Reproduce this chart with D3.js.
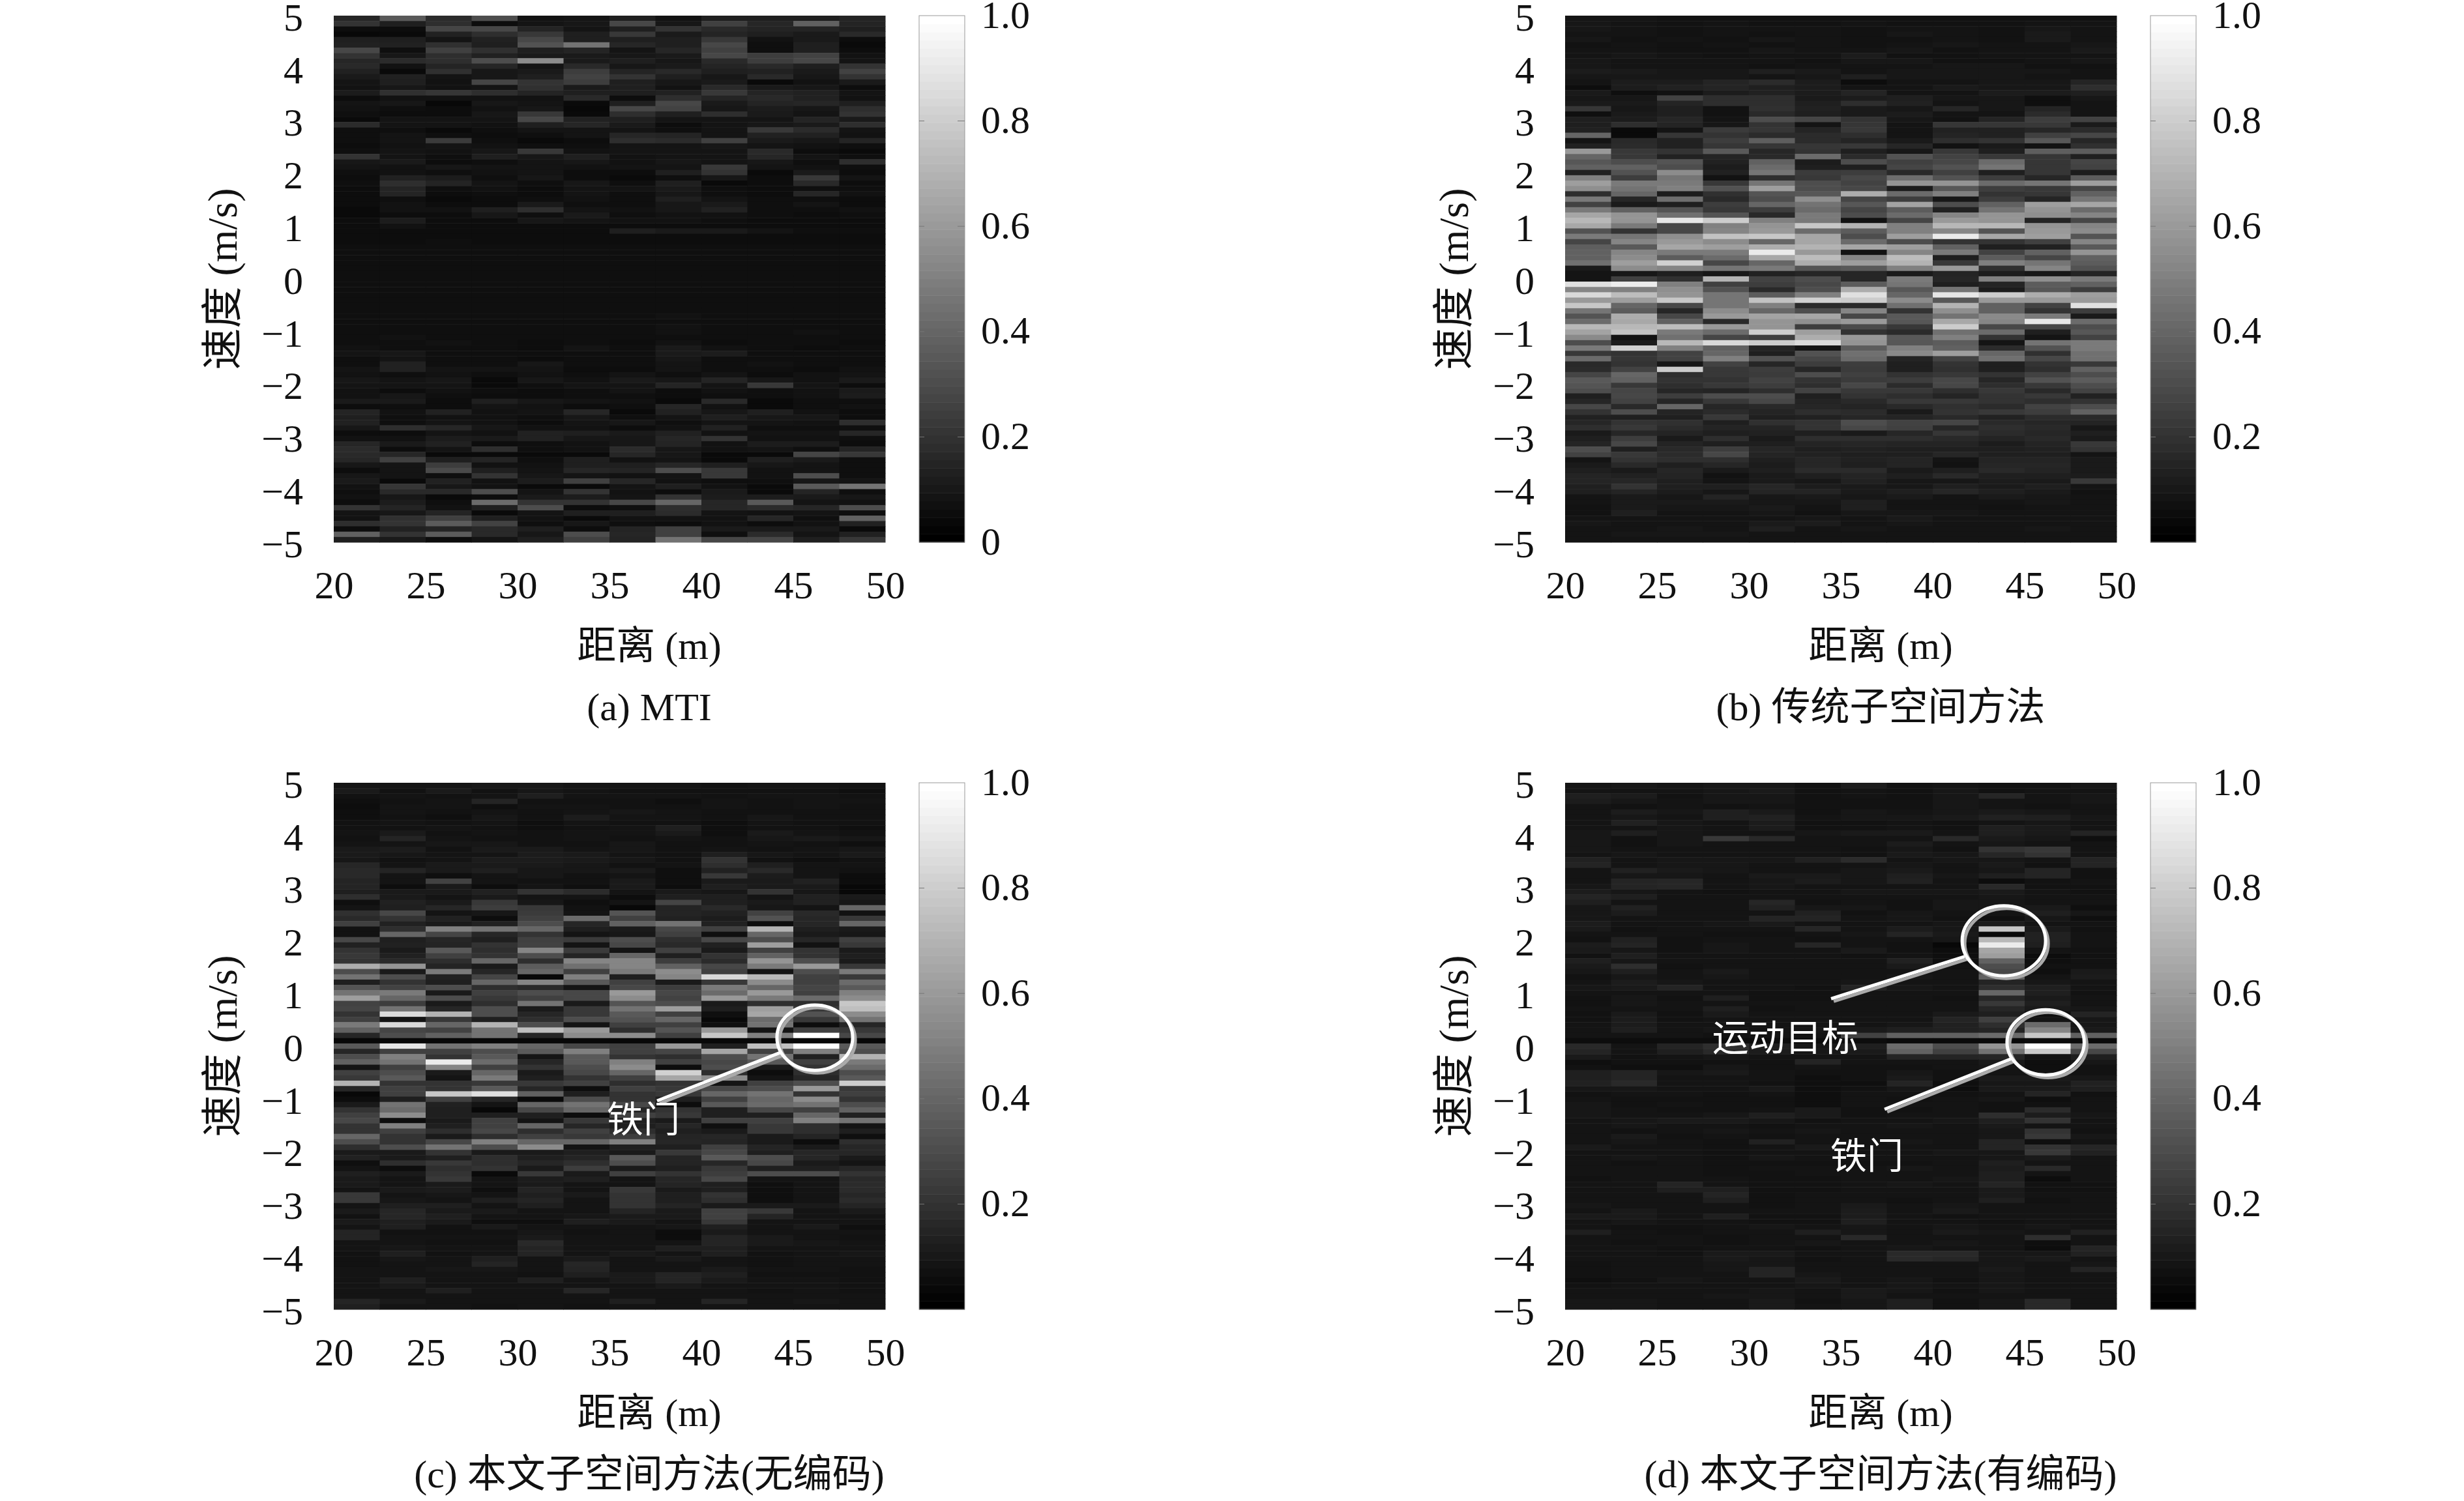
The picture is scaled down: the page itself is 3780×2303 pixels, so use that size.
<!DOCTYPE html>
<html>
<head>
<meta charset="utf-8">
<script src="https://cdnjs.cloudflare.com/ajax/libs/d3/7.8.5/d3.min.js"></script>
<style>
  body { margin: 0; background: white; }
  text { font-family: "Liberation Serif", "Noto Sans CJK SC", serif; fill: #111; }
</style>
</head>
<body>
<div id="chart"></div>
<script>
// range bins and speed ticks
var xTicks = [20, 25, 30, 35, 40, 45, 50];
var yTicks = [-5, -4, -3, -2, -1, 0, 1, 2, 3, 4, 5];
var barTicks = [0.2, 0.4, 0.6, 0.8];

// every row is one speed bin (top = +5 m/s), every column one range bin, values in percent of full scale
var panelA = [
[15,35,17,30,7,8,12,7,12,12,12,14],
[20,12,18,5,8,9,28,9,25,15,38,14],
[5,5,27,28,14,8,12,20,16,14,14,12],
[3,4,13,18,22,12,22,10,14,12,10,16],
[12,12,8,13,28,12,12,12,22,7,10,5],
[13,13,19,12,32,45,15,12,28,6,12,4],
[28,6,25,19,12,14,8,15,25,6,12,5],
[20,9,18,13,10,10,9,10,28,24,26,7],
[15,17,18,30,55,10,12,9,16,24,28,8],
[16,7,14,15,8,16,9,10,14,16,12,20],
[13,4,19,9,10,24,14,16,12,13,10,26],
[10,13,8,9,12,26,20,12,9,16,9,20],
[8,12,7,27,20,24,12,9,10,4,7,10],
[7,9,7,8,19,10,12,7,16,10,9,5],
[11,19,21,18,14,12,12,13,22,14,13,8],
[5,7,7,7,7,16,5,18,14,16,13,7],
[8,9,3,9,8,4,12,28,10,14,15,12],
[7,6,5,7,9,3,28,26,9,11,9,18],
[6,5,5,9,22,4,18,12,18,10,8,20],
[4,8,8,8,28,13,12,8,8,8,14,10],
[17,8,8,7,12,15,10,5,8,9,10,18],
[6,6,4,6,8,8,8,6,8,22,17,8],
[6,8,6,5,6,8,15,14,8,13,13,7],
[6,8,23,6,4,5,18,17,25,10,9,14],
[5,7,8,7,6,6,8,8,9,8,7,6],
[6,8,7,9,22,7,8,8,8,16,5,4],
[20,8,6,12,9,12,7,8,8,15,8,6],
[9,10,5,6,8,9,7,9,8,9,6,18],
[8,7,9,8,8,7,8,8,22,8,7,6],
[6,7,6,7,8,5,5,12,20,4,10,5],
[5,13,11,6,9,5,4,6,9,5,22,8],
[6,18,14,8,6,9,6,12,4,5,16,5],
[5,14,6,7,5,8,8,10,6,5,6,6],
[5,14,5,6,5,8,6,9,6,5,15,7],
[5,6,4,5,6,7,6,12,8,6,6,5],
[5,7,5,5,10,6,6,9,10,6,8,5],
[4,7,7,12,18,8,7,9,13,6,6,7],
[4,5,5,9,6,10,6,7,7,6,5,6],
[5,11,5,5,9,8,7,7,6,5,5,5],
[5,7,5,5,5,5,5,5,5,5,5,5],
[5,5,5,5,5,5,12,10,10,8,6,6],
[5,5,5,5,5,5,5,5,5,5,5,5],
[5,5,6,5,5,5,5,5,5,5,5,5],
[6,6,6,6,6,6,6,6,6,6,6,6],
[6,6,6,6,6,6,6,6,6,6,6,6],
[6,6,6,6,6,6,6,6,6,6,6,6],
[6,6,6,6,6,6,6,6,6,6,6,6],
[6,6,6,6,6,6,6,6,6,6,6,6],
[6,6,6,6,6,6,6,6,6,6,6,6],
[6,6,6,6,6,6,6,6,6,6,6,6],
[6,6,6,6,6,6,6,6,6,6,6,6],
[6,6,6,6,6,6,6,6,6,6,6,6],
[6,6,6,6,6,6,6,6,6,6,6,6],
[6,6,6,6,6,6,6,6,6,6,6,6],
[6,6,6,6,6,6,6,6,6,6,6,6],
[6,6,6,6,6,6,6,6,6,6,6,6],
[6,6,6,6,6,6,6,7,6,6,6,6],
[6,6,6,6,6,6,6,6,6,6,6,6],
[6,6,6,6,6,6,6,7,6,6,6,6],
[6,6,6,6,6,6,6,7,6,6,7,6],
[6,7,6,6,6,6,6,6,6,6,6,6],
[6,6,7,6,5,6,5,7,5,6,6,5],
[7,6,6,6,5,8,6,10,7,6,5,6],
[8,9,6,6,6,6,6,10,11,6,6,6],
[6,8,6,6,5,6,6,9,6,6,6,6],
[6,13,6,6,9,6,6,8,6,7,6,6],
[8,13,8,8,8,5,5,8,6,6,5,7],
[7,6,7,6,7,6,8,6,8,5,7,8],
[9,8,9,4,9,7,10,9,14,9,7,10],
[8,8,8,4,6,8,8,14,8,22,8,5],
[7,5,7,6,5,6,8,5,7,6,7,10],
[7,9,6,5,5,6,6,5,6,6,7,11],
[10,10,5,12,9,8,7,4,16,4,6,6],
[5,6,5,8,7,5,6,15,7,4,6,7],
[14,7,13,7,8,15,4,13,9,12,7,5],
[12,6,7,7,6,9,6,8,12,9,9,5],
[13,6,8,7,5,8,9,6,8,8,7,18],
[9,18,15,9,7,7,5,7,13,6,6,6],
[5,5,8,7,13,12,10,13,7,8,8,15],
[7,7,11,10,13,9,9,15,20,7,7,6],
[15,10,13,5,6,7,9,14,7,11,11,5],
[17,5,8,18,6,7,17,9,7,8,6,14],
[16,15,4,4,4,4,15,9,4,4,27,22],
[15,25,12,14,6,12,7,8,4,12,10,6],
[9,8,24,7,7,12,12,15,12,9,8,6],
[5,8,29,12,8,15,14,30,22,7,8,6],
[9,8,6,20,9,8,7,8,22,7,30,6],
[10,4,13,7,11,25,15,7,6,6,9,8],
[7,21,9,7,4,4,8,12,7,4,35,45],
[6,16,16,30,8,20,7,5,10,4,14,6],
[7,9,4,5,10,11,8,20,11,11,10,9],
[5,11,6,42,20,20,28,40,15,35,8,7],
[20,14,7,12,30,5,6,18,15,17,15,30],
[8,9,14,4,8,12,12,17,8,7,8,6],
[7,19,25,12,7,4,7,7,7,15,6,38],
[18,20,36,26,6,9,6,5,7,5,7,13],
[5,13,14,16,12,5,14,25,10,10,10,4],
[38,20,36,16,9,30,15,25,6,17,8,13],
[12,10,5,8,12,25,14,45,28,28,12,22]
];

var panelB = [
[8,8,7,7,7,7,7,7,7,7,7,7],
[9,8,7,8,7,7,8,7,7,7,8,8],
[9,8,7,8,8,8,7,8,8,7,9,8],
[8,8,7,8,7,8,7,9,8,7,10,8],
[9,7,8,7,9,8,7,7,8,7,10,8],
[7,8,7,8,7,8,7,8,9,8,8,9],
[8,8,7,7,9,8,8,9,7,8,8,10],
[8,9,8,7,8,8,11,7,7,8,8,8],
[9,8,8,8,8,7,9,9,7,7,8,9],
[9,8,8,8,7,8,8,8,9,9,7,7],
[11,10,9,9,12,10,8,9,9,9,9,8],
[9,9,9,9,8,9,12,9,9,9,8,8],
[8,11,11,14,17,11,5,8,8,9,9,14],
[5,11,13,14,12,11,8,8,10,9,9,18],
[10,6,7,11,13,11,14,8,8,11,11,12],
[9,9,26,18,18,10,11,12,9,9,6,9],
[10,10,14,18,18,12,18,13,8,9,6,8],
[21,9,12,7,19,13,10,9,15,9,14,8],
[6,10,12,7,16,12,10,11,8,8,17,8],
[12,11,15,8,30,27,20,9,7,14,24,26],
[12,18,14,9,20,8,21,8,21,21,22,10],
[13,4,8,23,21,14,22,8,13,13,15,17],
[40,4,21,20,17,17,18,8,14,13,25,28],
[8,16,13,24,37,17,14,10,18,20,34,15],
[13,17,13,21,21,21,22,15,7,10,7,19],
[60,22,20,35,15,20,12,9,22,12,37,36],
[40,22,13,14,16,42,17,32,26,22,21,12],
[34,30,33,13,38,11,30,25,28,42,21,27],
[38,38,30,11,42,12,12,27,32,46,21,26],
[13,32,55,13,46,23,24,16,25,12,21,11],
[50,24,46,7,18,22,28,43,32,24,15,36],
[62,48,48,22,46,30,26,58,58,42,46,62],
[56,45,50,32,62,30,28,11,34,24,22,27],
[18,40,11,19,33,34,68,42,50,20,21,38],
[48,15,43,16,30,56,27,24,9,24,14,46],
[26,10,12,24,40,45,34,64,30,38,62,65],
[48,38,33,22,24,42,27,36,13,45,58,42],
[65,58,44,33,16,48,30,42,52,58,56,52],
[72,58,90,80,50,47,7,27,60,58,14,28],
[66,48,28,50,58,78,70,50,72,72,58,52],
[32,20,28,52,60,42,36,50,53,33,60,55],
[48,46,56,76,78,65,30,62,92,66,62,33],
[27,52,60,55,40,65,42,30,20,20,25,52],
[37,35,65,62,68,70,65,62,38,12,13,35],
[38,52,48,48,92,60,7,52,48,26,38,58],
[38,55,36,42,66,74,52,74,12,36,27,38],
[44,62,82,28,40,68,62,70,22,50,46,36],
[10,55,52,46,48,33,35,50,60,19,52,32],
[8,9,12,9,13,15,15,10,14,11,9,14],
[8,25,19,70,26,30,15,48,15,50,56,48],
[88,93,50,25,24,28,36,46,12,14,36,38],
[52,50,56,32,16,30,68,34,46,11,34,24],
[85,74,58,46,36,50,88,40,90,80,68,62],
[60,62,78,46,76,82,80,55,34,60,60,60],
[78,40,28,46,50,17,17,44,70,38,26,88],
[46,36,15,55,40,30,52,20,56,38,20,24],
[33,68,28,60,64,65,28,35,45,54,48,10],
[42,66,38,16,58,56,60,34,66,52,90,42],
[72,72,74,60,58,24,29,22,80,28,27,30],
[64,76,48,42,80,62,20,17,44,42,12,34],
[54,7,44,27,24,68,60,35,50,20,8,26],
[30,11,72,85,80,86,58,34,36,8,45,48],
[48,82,50,38,14,8,36,50,38,17,32,48],
[22,20,26,40,12,32,44,54,62,40,19,44],
[42,21,26,50,32,28,42,14,26,44,28,44],
[16,20,9,26,15,24,24,12,20,12,20,22],
[17,26,80,22,24,15,23,12,19,12,18,38],
[27,40,18,22,23,30,25,20,22,20,26,30],
[35,38,20,20,26,20,23,24,28,15,32,36],
[33,22,18,22,24,18,28,17,28,18,22,30],
[30,27,15,14,18,26,22,22,18,22,16,26],
[12,28,24,30,30,12,20,18,14,20,22,13],
[15,26,15,22,28,14,16,22,22,20,18,20],
[28,16,40,15,16,15,14,16,19,17,26,30],
[20,30,14,17,14,18,17,10,20,22,24,38],
[13,12,12,22,12,13,15,14,16,13,17,16],
[15,20,19,12,19,20,30,26,27,16,15,14],
[18,22,17,14,14,20,28,25,15,18,16,9],
[10,15,14,12,13,12,10,15,21,17,15,12],
[12,24,10,18,10,18,18,18,16,14,16,10],
[14,28,14,12,12,14,15,14,14,11,14,22],
[30,12,16,24,15,12,13,12,12,12,13,20],
[26,22,17,28,14,13,12,12,15,12,12,8],
[8,20,18,18,12,15,13,14,8,14,14,10],
[10,16,12,15,11,15,12,14,7,15,15,10],
[12,10,15,10,12,17,17,10,12,16,14,10],
[14,13,14,7,10,12,14,12,16,12,12,11],
[14,15,12,8,10,9,13,9,9,11,10,22],
[12,20,12,12,15,11,10,9,12,10,12,8],
[12,14,11,9,14,14,10,12,15,12,10,7],
[8,10,9,14,9,10,9,10,8,10,9,8],
[8,10,10,10,9,9,12,8,8,8,9,8],
[7,10,9,9,10,8,12,8,8,7,8,8],
[7,12,8,8,9,7,9,9,9,8,8,8],
[8,8,8,8,8,9,8,10,8,8,8,8],
[9,8,8,8,10,11,8,9,8,8,8,8],
[8,8,9,8,12,8,9,8,8,8,9,8],
[8,9,9,9,8,8,8,8,8,8,8,8],
[8,8,8,8,8,8,8,8,8,8,8,8]
];

var panelC = [
[8,8,8,9,9,8,8,8,7,8,8,7],
[10,7,10,7,9,8,7,7,7,7,7,6],
[7,8,7,8,12,8,8,8,7,8,8,7],
[6,7,8,14,7,7,7,6,8,7,8,8],
[5,8,8,6,8,8,7,7,8,7,8,7],
[6,8,7,8,7,8,9,8,7,7,7,7],
[6,7,6,9,7,11,8,8,7,9,7,7],
[7,8,7,8,6,8,7,7,6,8,7,7],
[7,7,8,7,6,7,8,12,6,7,7,6],
[8,10,7,8,7,8,8,10,6,10,8,7],
[7,14,8,7,7,8,7,8,7,9,10,9],
[8,8,9,9,7,7,9,7,7,8,7,6],
[10,11,7,10,10,8,9,7,8,7,8,9],
[10,9,8,8,11,10,8,7,12,9,8,10],
[9,7,8,11,11,10,9,7,20,7,6,7],
[15,8,10,10,10,9,7,8,18,12,8,8],
[16,14,10,12,9,9,10,6,13,16,8,7],
[16,8,6,8,9,7,8,6,22,11,8,5],
[14,8,26,8,7,7,10,6,10,10,13,5],
[14,5,10,5,8,6,10,5,12,10,10,3],
[12,10,10,13,20,17,8,10,9,20,9,3],
[18,10,8,10,8,8,5,12,12,8,13,10],
[6,13,10,22,9,6,8,27,12,10,13,9],
[8,12,15,24,22,7,3,14,16,9,8,40],
[19,28,8,9,23,8,33,14,13,26,16,7],
[16,20,13,5,25,42,25,13,11,32,15,22],
[25,13,10,13,30,15,38,45,13,5,15,40],
[7,18,50,45,40,12,10,28,25,70,12,10],
[7,40,27,15,20,8,9,25,6,40,10,9],
[28,12,15,12,25,23,30,18,28,30,15,25],
[13,13,14,20,26,8,28,16,13,62,7,22],
[20,10,35,18,52,23,8,25,10,25,20,10],
[22,13,25,20,30,14,40,12,20,38,20,12],
[20,16,18,40,18,52,52,24,17,58,30,10],
[68,58,14,10,36,44,52,38,28,48,60,22],
[30,10,48,15,40,25,48,55,25,8,30,48],
[45,30,13,27,3,50,12,52,85,72,25,22],
[12,20,12,40,52,35,25,10,22,55,25,42],
[33,26,30,18,16,8,28,24,48,40,27,35],
[45,48,10,25,30,28,60,28,42,60,25,50],
[62,40,30,22,25,28,55,26,60,48,42,55],
[26,24,10,18,45,10,33,30,10,18,18,78],
[27,45,15,30,10,22,45,62,12,62,22,75],
[20,86,70,30,15,22,35,25,6,65,32,55],
[25,8,22,12,18,30,32,40,3,42,22,45],
[48,85,40,70,30,8,25,25,6,45,5,15],
[38,27,26,45,75,60,18,33,60,8,25,22],
[15,30,38,45,15,55,55,25,78,50,100,28],
[3,3,3,3,3,3,3,3,3,3,3,3],
[35,90,45,50,40,28,25,60,12,75,100,35],
[15,25,25,30,35,50,25,27,65,25,50,30],
[30,50,20,35,8,35,20,18,30,45,13,70],
[38,45,92,42,15,35,50,25,28,35,25,48],
[8,25,52,25,20,30,55,5,30,10,20,42],
[25,30,10,40,10,28,40,82,18,5,18,30],
[22,35,8,48,12,20,25,65,55,8,15,35],
[70,20,20,22,22,25,18,20,8,25,30,80],
[15,25,20,35,15,5,25,22,28,30,60,22],
[3,25,78,88,38,12,20,22,40,45,20,25],
[5,12,25,15,4,30,20,12,25,40,55,20],
[10,45,13,8,40,45,28,5,35,42,45,30],
[20,42,12,3,28,40,15,20,12,28,25,38],
[25,55,12,12,12,5,25,22,12,12,40,13],
[28,5,10,25,8,22,12,10,25,25,50,45],
[20,50,12,25,40,15,12,15,6,22,18,8],
[20,25,18,28,18,25,18,12,10,22,18,12],
[40,20,10,18,25,22,24,14,15,10,14,6],
[30,20,28,50,40,40,50,15,14,10,5,18],
[18,30,45,30,55,8,12,12,25,14,10,15],
[10,10,20,10,10,12,10,22,28,12,15,15],
[13,10,12,18,12,14,35,14,35,30,15,10],
[6,18,22,18,15,18,30,14,15,28,10,8],
[8,5,18,20,10,24,10,12,22,12,12,15],
[12,10,20,4,22,10,25,20,24,30,30,20],
[10,8,22,8,11,12,8,15,28,8,8,16],
[10,8,10,8,10,8,8,14,12,6,8,17],
[8,10,11,6,14,8,22,10,12,6,8,17],
[22,8,9,8,12,10,20,12,20,6,8,15],
[22,9,8,12,14,8,20,12,18,6,8,17],
[8,12,12,8,12,8,20,14,10,10,10,14],
[10,15,10,10,8,8,14,10,25,22,8,10],
[7,15,12,8,8,9,10,10,25,14,8,8],
[10,12,10,6,6,12,10,8,22,8,8,8],
[8,12,7,10,8,8,8,9,12,8,10,6],
[14,7,7,7,9,7,8,5,10,8,8,8],
[14,8,8,8,10,8,8,5,14,10,8,7],
[8,8,7,7,16,8,8,8,14,10,9,8],
[8,9,8,8,14,8,8,12,12,8,8,8],
[7,12,7,8,14,8,10,8,12,7,8,9],
[7,9,8,12,8,10,8,10,8,7,8,8],
[7,8,8,14,8,15,8,8,8,7,8,8],
[8,8,9,9,8,14,8,8,10,8,8,7],
[8,8,8,8,7,12,10,14,12,7,7,7],
[8,12,8,8,12,8,10,14,10,8,8,7],
[8,10,8,8,8,8,8,10,8,8,8,7],
[8,8,12,8,8,15,8,8,8,7,8,7],
[8,8,8,8,8,8,8,8,8,8,8,8],
[14,10,8,8,8,8,12,8,14,8,9,8],
[12,8,8,7,8,7,8,8,8,8,8,8]
];

var panelD = [
[8,9,8,9,9,7,11,7,8,7,7,9],
[8,8,8,9,10,7,8,7,9,7,8,8],
[12,11,7,9,9,7,8,7,9,15,8,9],
[11,9,8,9,9,7,7,7,9,8,8,9],
[8,7,8,7,8,7,7,7,9,8,7,8],
[8,11,9,12,10,7,9,8,9,10,9,8],
[8,9,8,12,13,8,9,9,10,13,12,9],
[8,13,9,8,11,7,7,8,7,8,9,8],
[8,8,9,8,11,7,7,8,7,12,10,8],
[9,12,9,8,8,9,10,10,8,12,10,14],
[9,7,9,22,16,8,8,8,16,10,9,6],
[9,7,9,8,8,8,8,11,8,9,8,8],
[9,8,8,8,8,8,7,9,7,20,22,8],
[8,9,8,8,8,8,7,10,9,15,20,8],
[13,8,9,9,9,13,17,8,9,9,8,14],
[14,8,9,9,8,8,8,9,8,10,7,14],
[8,13,10,9,8,8,9,10,8,9,14,7],
[8,9,9,8,10,10,9,12,9,12,14,7],
[8,14,15,8,9,11,9,13,8,5,7,8],
[9,14,15,8,9,8,8,8,8,16,7,7],
[11,9,8,7,8,8,9,9,9,10,8,7],
[14,12,8,8,8,8,8,8,8,9,8,8],
[12,8,8,8,15,7,8,7,9,9,8,8],
[9,13,8,8,13,9,9,7,9,9,10,6],
[9,11,8,8,8,13,7,9,8,8,12,9],
[9,8,8,8,14,14,8,9,7,6,9,6],
[11,8,8,9,10,8,8,8,9,11,8,8],
[10,7,8,8,8,15,8,11,9,78,10,7],
[8,8,8,7,7,8,9,14,10,4,13,8],
[7,13,7,8,8,7,8,8,9,72,13,8],
[11,14,7,9,8,15,8,7,3,92,12,8],
[10,9,7,9,8,8,10,7,5,65,8,7],
[7,12,8,8,8,8,7,8,6,62,5,7],
[12,9,8,8,8,8,8,13,6,38,6,7],
[10,18,7,8,8,8,8,10,7,30,7,7],
[9,12,8,10,8,8,8,8,8,28,6,10],
[7,9,8,9,8,8,8,9,8,38,8,11],
[8,11,9,8,8,8,9,8,8,14,9,8],
[9,10,14,8,8,7,14,9,8,18,12,8],
[8,8,8,8,7,7,8,8,8,40,12,7],
[7,9,7,12,7,7,8,8,7,15,10,8],
[7,9,8,8,8,8,8,8,8,22,12,8],
[8,8,8,12,7,8,8,8,8,15,10,9],
[7,10,7,10,8,8,8,8,10,12,6,14],
[7,11,7,8,8,8,8,8,14,25,8,9],
[8,11,8,8,8,8,8,9,13,18,42,9],
[8,12,8,9,8,9,10,12,13,14,52,10],
[8,8,8,7,8,8,26,38,38,42,78,38],
[5,5,5,5,5,5,5,4,4,4,5,4],
[16,8,14,18,12,9,12,42,30,58,100,42],
[14,8,12,16,11,9,10,38,25,45,80,28],
[10,7,8,9,8,8,8,14,14,15,8,12],
[6,7,7,7,7,14,8,8,8,10,6,9],
[7,6,6,9,7,8,7,7,8,9,6,7],
[12,14,9,10,8,7,7,9,7,8,8,7],
[12,14,8,8,8,6,7,10,7,10,10,9],
[13,16,8,8,7,6,6,14,6,9,9,13],
[9,9,8,8,10,6,7,9,5,10,10,12],
[7,8,8,7,8,6,8,8,7,8,14,7],
[8,7,7,7,7,6,8,7,8,9,6,8],
[9,7,8,7,7,6,8,8,8,7,7,8],
[9,8,7,7,8,10,7,7,8,7,17,8],
[9,8,8,9,12,10,7,8,8,18,11,9],
[8,9,10,10,9,7,8,8,9,12,20,8],
[8,9,8,8,7,8,8,9,8,10,8,8],
[8,7,8,9,8,9,8,8,8,9,20,7],
[8,10,7,8,7,8,8,8,8,9,22,9],
[8,9,8,7,13,8,8,9,8,14,6,8],
[10,8,8,7,8,10,8,8,8,14,20,15],
[8,8,8,7,8,8,8,8,9,9,22,13],
[8,9,8,7,9,8,8,8,8,9,10,8],
[8,7,8,7,7,7,7,7,8,12,8,8],
[8,8,8,7,8,8,8,9,8,11,16,8],
[8,8,8,7,7,8,8,8,8,12,8,8],
[7,8,8,8,7,7,8,8,9,12,5,8],
[8,8,14,8,7,7,8,9,8,14,7,7],
[8,8,12,12,7,7,8,8,8,10,7,7],
[8,8,8,14,7,8,8,8,8,10,8,8],
[8,8,8,12,7,8,8,7,8,12,7,8],
[9,8,8,8,7,8,10,8,9,8,8,8],
[8,10,8,8,8,8,11,8,10,8,8,8],
[10,10,8,12,7,7,11,8,7,8,8,8],
[8,9,8,8,7,7,12,8,8,7,8,8],
[8,7,7,8,9,8,9,8,9,8,9,8],
[12,8,7,8,8,12,9,8,10,9,8,13],
[8,8,8,7,8,8,16,8,8,8,18,8],
[8,7,8,7,8,9,8,8,9,8,6,8],
[8,8,7,8,8,7,8,9,8,8,5,14],
[8,8,7,10,10,8,8,16,16,9,9,13],
[8,8,8,10,9,7,8,16,15,9,10,8],
[7,8,8,9,9,8,8,8,8,9,8,9],
[7,8,8,9,14,8,8,8,8,10,8,14],
[7,8,8,8,14,9,8,8,8,9,8,8],
[6,7,9,8,8,10,8,9,7,9,8,8],
[7,8,8,8,8,9,8,9,8,9,8,8],
[8,8,8,8,9,8,10,9,7,9,8,8],
[8,8,8,9,9,8,10,8,8,8,8,8],
[9,9,8,8,10,7,9,12,7,9,16,8],
[9,9,8,8,10,8,9,12,7,9,16,8]
];

// callouts, in axis units (range m, speed m/s)
var notesC = {
    ellipses: [{cx: 46.17, cy: 0.16, rx: 2.06, ry: 0.62}],
    lines: [{x1: 37.59, y1: -1.04, x2: 44.33, y2: -0.12}],
    labels: [{x: 36.84, y: -1.38, text: "铁门"}]
};
var notesD = {
    ellipses: [{cx: 43.87, cy: 2.0, rx: 2.27, ry: 0.665}, {cx: 46.14, cy: 0.07, rx: 2.1, ry: 0.62}],
    lines: [{x1: 34.47, y1: 0.9, x2: 41.74, y2: 1.7}, {x1: 37.38, y1: -1.2, x2: 44.29, y2: -0.24}],
    labels: [{x: 31.98, y: 0.16, text: "运动目标"}, {x: 36.42, y: -2.08, text: "铁门"}]
};

var width = 3780, height = 2303;
var plotW = 846, plotH = 808, barGap = 52, barW = 70;
var fontSize = 60;

var svg = d3.select("#chart").append("svg")
    .attr("width", width)
    .attr("height", height);

var gray = d3.scaleLinear().domain([0, 100]).range(["#000", "#fff"]);

function drawPanel(left, top, rows, caption, zeroOnBar, notes) {
    var g = svg.append("g").attr("transform", "translate(" + left + "," + top + ")");

    var x = d3.scaleLinear().domain([20, 50]).range([0, plotW]);
    var y = d3.scaleLinear().domain([-5, 5]).range([plotH, 0]);
    var col = d3.scaleBand().domain(d3.range(rows[0].length)).range([0, plotW]);
    var row = d3.scaleBand().domain(d3.range(rows.length)).range([0, plotH]);

    // heat map
    g.append("g").selectAll("g")
        .data(rows)
        .enter().append("g")
        .attr("transform", function(d, i) { return "translate(0," + row(i) + ")"; })
        .selectAll("rect")
        .data(function(d) { return d; })
        .enter().append("rect")
        .attr("x", function(d, i) { return col(i); })
        .attr("width", col.bandwidth() + 0.5)
        .attr("height", row.bandwidth() + 0.5)
        .style("fill", function(d) { return gray(d); });

    // axes
    var xAxis = g.append("g")
        .attr("transform", "translate(0," + plotH + ")")
        .call(d3.axisBottom(x).tickValues(xTicks).tickSize(0).tickPadding(43));
    var yAxis = g.append("g")
        .call(d3.axisLeft(y).tickValues(yTicks).tickSize(0).tickPadding(47)
            .tickFormat(function(d) { return String(d).replace("-", "\u2212"); }));
    xAxis.select(".domain").remove();
    yAxis.select(".domain").remove();
    yAxis.selectAll("text").attr("dy", "0.37em");

    // colour bar, 64 grey levels like the colormap
    var levels = d3.range(64);
    var barX = plotW + barGap;
    var band = d3.scaleBand().domain(levels).range([plotH, 0]);
    var bar = g.append("g").attr("transform", "translate(" + barX + ",0)");
    bar.selectAll("rect")
        .data(levels)
        .enter().append("rect")
        .attr("y", function(d) { return band(d); })
        .attr("width", barW)
        .attr("height", band.bandwidth() + 0.5)
        .style("fill", function(d) { return gray(d / 63 * 100); });
    bar.append("rect")
        .attr("width", barW)
        .attr("height", plotH)
        .style("fill", "none")
        .style("stroke", "#999")
        .style("stroke-width", 1);

    var barScale = d3.scaleLinear().domain([0, 1]).range([plotH, 0]);
    var barLabels = barTicks.map(function(t) { return {v: t, s: d3.format(".1f")(t)}; });
    barLabels.push({v: 1, s: "1.0"});
    if (zeroOnBar) barLabels.push({v: 0, s: "0"});
    bar.selectAll("line.tick")
        .data(barTicks)
        .enter().append("g")
        .each(function(t) {
            d3.select(this).selectAll("line")
                .data([[0, 8], [barW - 11, barW]])
                .enter().append("line")
                .attr("x1", function(d) { return d[0]; })
                .attr("x2", function(d) { return d[1]; })
                .attr("y1", barScale(t))
                .attr("y2", barScale(t))
                .style("stroke", "#777")
                .style("stroke-width", 1);
        });
    bar.selectAll("text")
        .data(barLabels)
        .enter().append("text")
        .attr("x", barW + 25)
        .attr("y", function(d) { return barScale(d.v); })
        .attr("dy", "0.31em")
        .text(function(d) { return d.s; });

    // titles are centred on plot plus colour bar
    var midX = (plotW + barGap + barW) / 2;
    g.append("text")
        .attr("x", midX)
        .attr("y", plotH + 179)
        .style("text-anchor", "middle")
        .text("距离 (m)");
    g.append("text")
        .attr("transform", "translate(-149," + plotH / 2 + ") rotate(-90)")
        .style("text-anchor", "middle")
        .style("font-size", "64px")
        .text("速度 (m/s)");
    g.append("text")
        .attr("x", midX)
        .attr("y", plotH + 273)
        .style("text-anchor", "middle")
        .text(caption);

    if (!notes) return;

    // callouts with their grey drop shadow
    [{dx: 4, dy: 4, color: "#aaa"}, {dx: 0, dy: 0, color: "#fff"}].forEach(function(s) {
        var n = g.append("g").attr("transform", "translate(" + s.dx + "," + s.dy + ")");
        n.selectAll("ellipse")
            .data(notes.ellipses)
            .enter().append("ellipse")
            .attr("cx", function(d) { return x(d.cx); })
            .attr("cy", function(d) { return y(d.cy); })
            .attr("rx", function(d) { return x(d.cx + d.rx) - x(d.cx); })
            .attr("ry", function(d) { return y(d.cy - d.ry) - y(d.cy); })
            .style("fill", "none")
            .style("stroke", s.color)
            .style("stroke-width", 5);
        n.selectAll("line")
            .data(notes.lines)
            .enter().append("line")
            .attr("x1", function(d) { return x(d.x1); })
            .attr("y1", function(d) { return y(d.y1); })
            .attr("x2", function(d) { return x(d.x2); })
            .attr("y2", function(d) { return y(d.y2); })
            .style("stroke", s.color)
            .style("stroke-width", 5);
    });
    g.selectAll("text.note")
        .data(notes.labels)
        .enter().append("text")
        .attr("class", "note")
        .attr("x", function(d) { return x(d.x); })
        .attr("y", function(d) { return y(d.y); })
        .attr("dy", "0.36em")
        .style("text-anchor", "middle")
        .style("font-size", "56px")
        .style("fill", "#fff")
        .text(function(d) { return d.text; });
}

svg.style("font-size", fontSize + "px");

drawPanel(512, 24, panelA, "(a) MTI", true, null);
drawPanel(2401, 24, panelB, "(b) 传统子空间方法", false, null);
drawPanel(512, 1201, panelC, "(c) 本文子空间方法(无编码)", false, notesC);
drawPanel(2401, 1201, panelD, "(d) 本文子空间方法(有编码)", false, notesD);

// axis() sets its own font on the tick groups, take it back
svg.selectAll("g").attr("font-family", null).attr("font-size", null);
</script>
</body>
</html>
